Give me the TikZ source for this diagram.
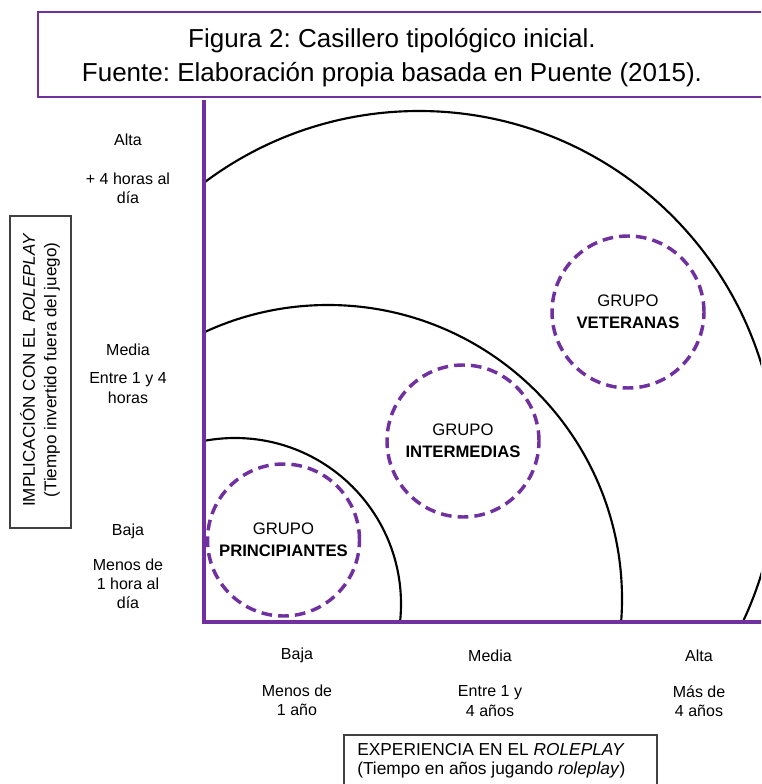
\documentclass[tikz,border=0pt]{standalone}
\usepackage{fontspec}
\setmainfont{Liberation Sans}
\definecolor{purp}{RGB}{112,48,160}
\frenchspacing
\begin{document}
\begin{tikzpicture}[x=0.75pt,y=-0.75pt,
  lbl/.style={align=center,font=\fontsize{12}{14.4}\selectfont,inner sep=0pt},
  grp/.style={circle,draw=purp,line width=2.6pt,dash pattern=on 8pt off 4.6pt,minimum size=114pt,align=center,font=\fontsize{12.5}{16.5}\selectfont,inner sep=0pt},
  axisline/.style={draw=purp,line width=2.6pt},
  arcline/.style={draw=black,line width=1.6pt},
  boxline/.style={draw=black!75,line width=0.9pt}]
\clip (0,0) rectangle (761,784);
\fill[white] (0,0) rectangle (761,784);
% caption box
\draw[draw=purp,line width=1.5pt] (780,12) -- (38,12) -- (38,97) -- (780,97);
\node[lbl,font=\fontsize{19.5}{25.5}\selectfont] (cap) at (392,58) {Figura 2: Casillero tipológico inicial.\\Fuente: Elaboración propia basada en Puente (2015).};
% arcs
\begin{scope}
\clip (204,0) rectangle (800,622);
\draw[arcline] (235,604) circle[radius=166];
\draw[arcline] (328,599) circle[radius=294];
\draw[arcline] (419,469) circle[radius=358];
\end{scope}
% axes
\coordinate (o) at (204,622);
\coordinate (ytop) at (204,100);
\coordinate (xend) at (780,622);
\draw[axisline] (ytop) -- (o) -- (xend);
% groups
\node[grp] (gp) at (283.5,540) {GRUPO\\\textbf{PRINCIPIANTES}};
\node[grp] (gi) at (463,441) {GRUPO\\\textbf{INTERMEDIAS}};
\node[grp] (gv) at (628,312) {GRUPO\\\textbf{VETERANAS}};
% y labels
\node[lbl] (ya) at (128,140) {Alta};
\node[lbl] (yad) at (128,188) {+ 4 horas al\\día};
\node[lbl] (ym) at (128,350) {Media};
\node[lbl] (ymd) at (128,388) {Entre 1 y 4\\horas};
\node[lbl] (yb) at (128,531) {Baja};
\node[lbl] (ybd) at (128,584) {Menos de\\1 hora al\\día};
% x labels
\node[lbl] (xb) at (297,655) {Baja};
\node[lbl] (xbd) at (297,700) {Menos de\\1 año};
\node[lbl] (xm) at (490,656) {Media};
\node[lbl] (xmd) at (490,701) {Entre 1 y\\4 años};
\node[lbl] (xa) at (699,656) {Alta};
\node[lbl] (xad) at (699,701) {Más de\\4 años};
% left axis title box
\draw[boxline] (10,216) rectangle (71,528);
\node[lbl,rotate=90,font=\fontsize{12.8}{16}\selectfont] (ytitle) at (40,370) {IMPLICACIÓN CON EL \textit{ROLEPLAY}\\(Tiempo invertido fuera del juego)};
% bottom axis title box
\draw[boxline] (344,800) -- (344,735) -- (657,735) -- (657,800);
\node[lbl,align=left,anchor=west,font=\fontsize{13}{14.5}\selectfont] (xtitle) at (357,761) {EXPERIENCIA EN EL \textit{ROLEPLAY}\\(Tiempo en años jugando \textit{roleplay})};
\end{tikzpicture}
\end{document}
